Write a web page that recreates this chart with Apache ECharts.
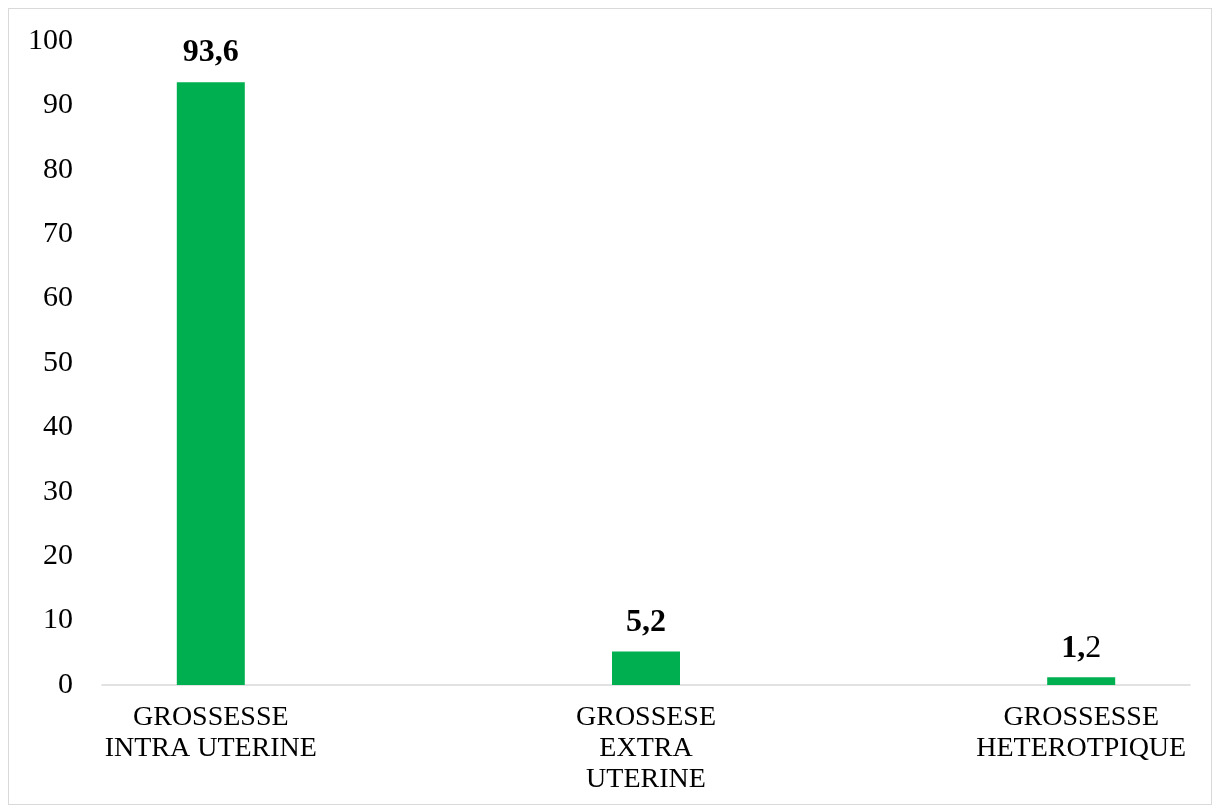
<!DOCTYPE html>
<html>
<head>
<meta charset="utf-8">
<script src="https://cdn.jsdelivr.net/npm/echarts@6/dist/echarts.min.js"></script>
<style>
  html, body { margin: 0; padding: 0; background: #fff; }
  #frame { position: absolute; left: 8px; top: 8px; width: 1204px; height: 797px; border: 1px solid #d9d9d9; box-sizing: border-box; }
  #chart { position: absolute; left: 0; top: 0; width: 1215px; height: 808px; }
</style>
</head>
<body>
<div id="frame"></div>
<div id="chart"></div>
<script>
// Types de grossesse (%)
const categories = ['GROSSESSE\nINTRA UTERINE', 'GROSSESE\nEXTRA\nUTERINE', 'GROSSESSE\nHETEROTPIQUE'];
const values = [93.6, 5.2, 1.2];
const yTicks = [0, 10, 20, 30, 40, 50, 60, 70, 80, 90, 100];

const font = '"Liberation Serif", "Times New Roman", serif';

function fmt(v) {
  return String(v).replace('.', ',');
}

// bars are placed on a numeric x axis at the category index
const barData = values.map(function (v, i) { return [i, v]; });

const chart = echarts.init(document.getElementById('chart'), null, { renderer: 'canvas' });
chart.setOption({
  backgroundColor: 'transparent',
  animation: false,
  grid: { left: 102, right: 25, top: 41, bottom: 123 },
  xAxis: {
    type: 'value',
    min: -0.25,
    max: categories.length - 0.75,
    splitLine: { show: false },
    axisLine: { show: true, onZero: false, lineStyle: { color: '#d9d9d9', width: 1.5 } },
    axisTick: { show: false },
    axisLabel: {
      customValues: categories.map(function (c, i) { return i; }),
      formatter: function (v) { return categories[Math.round(v)] || ''; },
      fontFamily: font, fontSize: 28, color: '#000', lineHeight: 31, margin: 17
    }
  },
  yAxis: {
    type: 'value',
    min: yTicks[0],
    max: yTicks[yTicks.length - 1],
    interval: 10,
    splitLine: { show: false },
    axisLine: { show: false },
    axisTick: { show: false },
    axisLabel: { fontFamily: font, fontSize: 30, color: '#000', margin: 29 }
  },
  series: [{
    type: 'bar',
    data: barData,
    barWidth: 68,
    itemStyle: { color: '#00b050' },
    label: {
      show: true,
      position: 'top',
      distance: 13,
      fontFamily: font,
      fontSize: 32,
      fontWeight: 'bold',
      color: '#000',
      formatter: function (p) {
        const s = fmt(p.value[1]);
        if (p.dataIndex === 2) {
          const i = s.indexOf(',');
          return '{b|' + s.slice(0, i + 1) + '}{r|' + s.slice(i + 1) + '}';
        }
        return s;
      },
      rich: {
        b: { fontFamily: font, fontSize: 32, fontWeight: 'bold', color: '#000' },
        r: { fontFamily: font, fontSize: 32, fontWeight: 'normal', color: '#000' }
      }
    }
  }]
});
</script>
</body>
</html>
